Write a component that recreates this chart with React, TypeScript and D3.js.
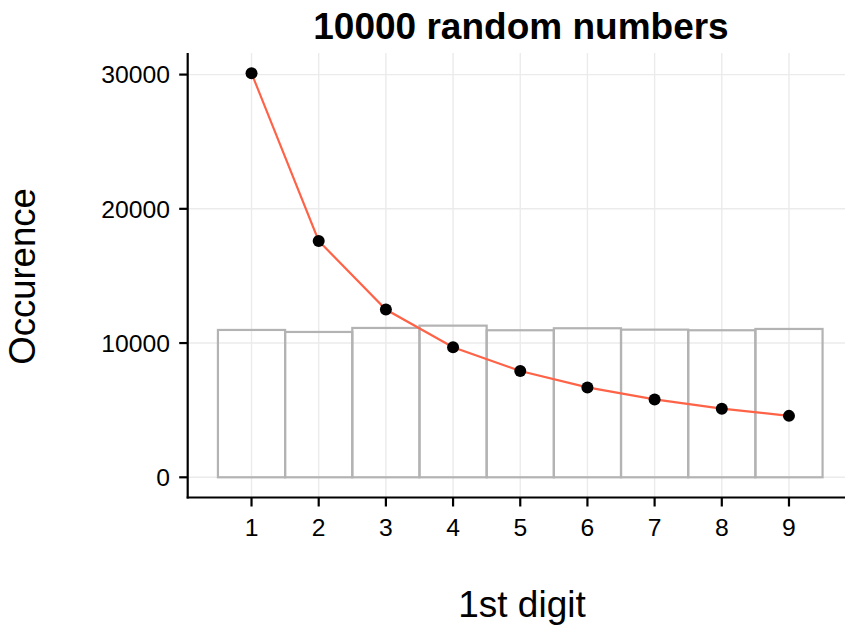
import React from "react";
import * as d3 from "d3";

const digits = [1, 2, 3, 4, 5, 6, 7, 8, 9];
const observed = [10976, 10827, 11125, 11297, 10954, 11103, 10999, 10954, 11051];
const benford = [30103, 17609, 12494, 9691, 7918, 6695, 5799, 5115, 4576];
const yTicks = [0, 10000, 20000, 30000];
const title = "10000 random numbers";
const xTitle = "1st digit";
const yTitle = "Occurence";

const W = 845;
const H = 628;
const FONT = "'Liberation Sans', Arial, Helvetica, sans-serif";

export default function App() {
  const x = d3.scaleLinear().domain([0.05, 9.95]).range([187.7, 852.8]);
  const y = d3.scaleLinear().domain([-1505, 31608]).range([497.5, 53]);
  const left = 187.7;
  const right = 852.8;
  const top = 53;
  const bottom = 497.5;

  const line = d3
    .line<number>()
    .x((_, i) => x(digits[i]))
    .y((d) => y(d));

  const grid = "#EBEBEB";
  return (
    <svg
      width={W}
      height={H}
      style={{ position: "absolute", left: 0, top: 0, background: "#fff" }}
      fontFamily={FONT}
    >
      <rect width={W} height={H} fill="#fff" />
      {yTicks.map((t) => (
        <line key={"gy" + t} x1={left} x2={right} y1={y(t)} y2={y(t)} stroke={grid} strokeWidth={1.4} />
      ))}
      {digits.map((d) => (
        <line key={"gx" + d} x1={x(d)} x2={x(d)} y1={top} y2={bottom} stroke={grid} strokeWidth={1.4} />
      ))}
      {digits.map((d, i) => (
        <rect
          key={"b" + d}
          x={x(d - 0.5)}
          y={y(observed[i])}
          width={x(d + 0.5) - x(d - 0.5)}
          height={y(0) - y(observed[i])}
          fill="none"
          stroke="#B3B3B3"
          strokeWidth={2.2}
        />
      ))}
      <path d={line(benford) || ""} fill="none" stroke="#FF6347" strokeWidth={2.2} />
      {benford.map((v, i) => (
        <circle key={"p" + i} cx={x(digits[i])} cy={y(v)} r={6} fill="#000" />
      ))}
      <line x1={left} x2={left} y1={top} y2={bottom + 1} stroke="#000" strokeWidth={2.2} />
      <line x1={left - 1} x2={right} y1={bottom} y2={bottom} stroke="#000" strokeWidth={2.2} />
      {yTicks.map((t) => (
        <g key={"yt" + t}>
          <line x1={left - 8.5} x2={left} y1={y(t)} y2={y(t)} stroke="#000" strokeWidth={2.2} />
          <text x={170} y={y(t)} dy="0.36em" textAnchor="end" fontSize={24.7} fill="#000">
            {t}
          </text>
        </g>
      ))}
      {digits.map((d) => (
        <g key={"xt" + d}>
          <line x1={x(d)} x2={x(d)} y1={bottom} y2={bottom + 9} stroke="#000" strokeWidth={2.2} />
          <text x={x(d)} y={536} textAnchor="middle" fontSize={24.7} fill="#000">
            {d}
          </text>
        </g>
      ))}
      <text x={521} y={39} textAnchor="middle" fontSize={37} fontWeight="bold" fill="#000">
        {title}
      </text>
      <text x={522} y={617} textAnchor="middle" fontSize={37} fill="#000">
        {xTitle}
      </text>
      <text
        transform={`translate(35, 276.5) rotate(-90)`}
        textAnchor="middle"
        fontSize={36.5}
        fill="#000"
      >
        {yTitle}
      </text>
    </svg>
  );
}
